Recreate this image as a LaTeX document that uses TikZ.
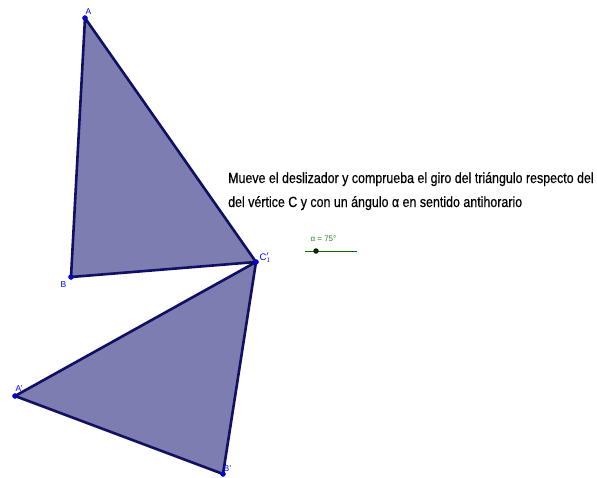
\documentclass[tikz,border=0pt]{standalone}
\usepackage{fontspec}
\setmainfont{Liberation Sans}
\newfontfamily\msgfont[FakeStretch=0.84,FakeBold=0.4]{Liberation Sans}
\usetikzlibrary{positioning}
\definecolor{trifill}{RGB}{125,125,178}
\definecolor{triedge}{RGB}{15,15,100}
\definecolor{ptblue}{RGB}{0,0,255}
\definecolor{slidergreen}{RGB}{0,110,0}

\begin{document}
\begin{tikzpicture}[x=1pt, y=-1pt,
    tri/.style={draw=triedge, fill=trifill, line width=2.6pt, line join=round},
    pt/.style={circle, fill=ptblue, draw=triedge, inner sep=0pt, minimum size=5pt},
    lbl/.style={font=\fontsize{8.5}{9}\selectfont, text=ptblue, inner sep=0.5pt},
    msg/.style={font=\msgfont\fontsize{14.8}{16}\selectfont, anchor=base west, inner sep=0pt}]
  \useasboundingbox (0,0) rectangle (597,477);
  % original triangle and its image
  \coordinate (A) at (85,18);
  \coordinate (B) at (71,277);
  \coordinate (C) at (256,262);
  \coordinate (A1) at (15,396);
  \coordinate (B1) at (223,474);
  \draw[tri] (A) -- (B) -- (C) -- cycle;
  \draw[tri] (A1) -- (B1) -- (C) -- cycle;
  % points
  \node[pt] (pA) at (A) {};
  \node[pt] (pB) at (B) {};
  \node[pt] (pC) at (C) {};
  \node[pt] (pA1) at (A1) {};
  \node[pt] (pB1) at (B1) {};
  \node[lbl, above right=1pt and -2pt of pA] {A};
  \node[lbl, below left=2pt and 2pt of pB] {B};
  \node[lbl, font=\fontsize{9.5}{10}\selectfont, above right=-3pt and 1pt of pC] {C$'_1$};
  \node[lbl, anchor=south west] at (15,392) {A'};
  \node[lbl, anchor=west] at (223,469) {B'};
  % texto
  \node[msg] (l1) at (228,183) {Mueve el deslizador y comprueba el giro del triángulo respecto del};
  \node[msg] (l2) at (228,207) {del vértice C y con un ángulo α en sentido antihorario};
  % deslizador
  \coordinate (s0) at (305,251);
  \coordinate (s1) at (357,251);
  \draw[slidergreen, line width=0.7pt] (s0) -- (s1);
  \node[circle, fill=black!65!slidergreen, inner sep=0pt, minimum size=5.5pt] (knob) at (316,251) {};
  \node[font=\fontsize{8}{9}\selectfont, text=slidergreen!85!white, anchor=west] (alpha) at (307,239) {α = 75°};
\end{tikzpicture}
\end{document}
